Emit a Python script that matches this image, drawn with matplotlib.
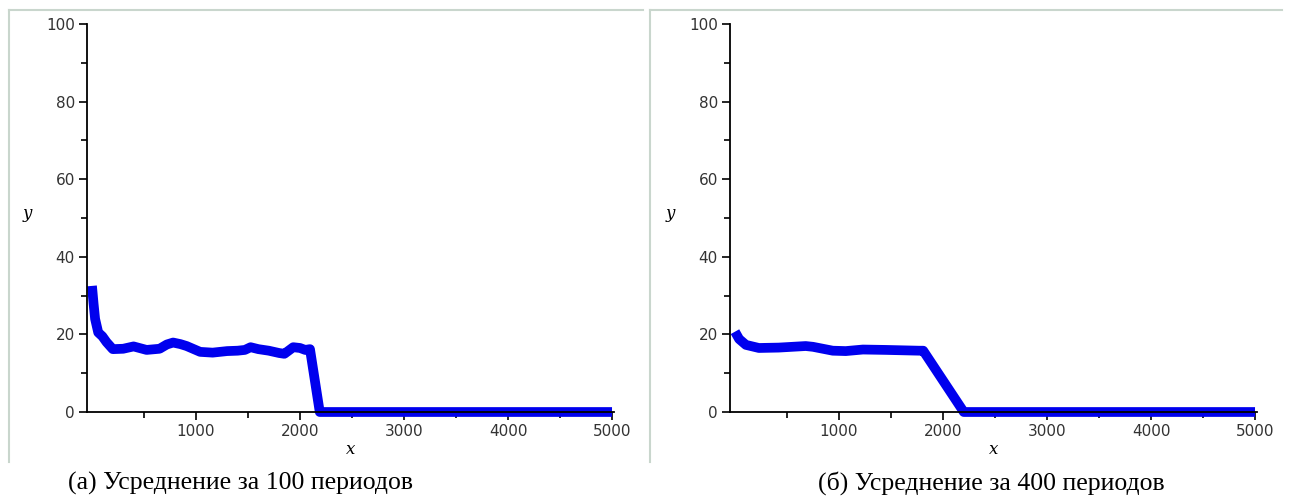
import matplotlib
matplotlib.use("Agg")
from matplotlib import pyplot as plt
from matplotlib.lines import Line2D
from matplotlib.ticker import FixedLocator

# (a) усреднение за 100 периодов
x_a = [0, 15, 30, 60, 100, 140, 200, 300, 400, 525, 650, 720, 780, 850, 910, 1040,
       1160, 1300, 1400, 1470, 1525, 1600, 1700, 1800, 1850, 1935, 2000, 2050, 2096,
       2190, 2500, 3000, 3500, 4000, 4500, 5000]
y_a = [32.5, 28, 24, 20.5, 19.5, 18, 16.2, 16.3, 16.9, 16.0, 16.3, 17.4, 17.9, 17.5, 17.0, 15.5,
       15.3, 15.7, 15.8, 16.0, 16.7, 16.2, 15.8, 15.2, 15.0, 16.7, 16.5, 16.0, 16.2,
       0, 0, 0, 0, 0, 0, 0]

# (б) усреднение за 400 периодов
x_b = [0, 40, 105, 230, 420, 680, 750, 940, 1065, 1230, 1450, 1770, 1810, 2200,
       2500, 3000, 3500, 4000, 4500, 5000]
y_b = [20.7, 18.8, 17.3, 16.5, 16.6, 17.0, 16.8, 15.8, 15.7, 16.1, 16.0, 15.8, 15.8, 0,
       0, 0, 0, 0, 0, 0]

captions = ["(a) Усреднение за 100 периодов", "(б) Усреднение за 400 периодов"]

W, H = 1292, 503
fig = plt.figure(figsize=(W / 100, H / 100), dpi=100)

frame_col = "#c9d6cd"
panels = [(x_a, y_a, 87.3, 9, 643, 240), (x_b, y_b, 730.3, 650, 1282, 991)]

for i, (xs, ys, left_px, fx0, fx1, cap_x) in enumerate(panels):
    # светлая рамка панели (левая и верхняя стороны)
    fig.add_artist(Line2D([fx0 / W, fx0 / W], [1 - 462 / H, 1 - 10 / H],
                          color=frame_col, lw=1.5, transform=fig.transFigure))
    fig.add_artist(Line2D([fx0 / W, fx1 / W], [1 - 10 / H, 1 - 10 / H],
                          color=frame_col, lw=1.5, transform=fig.transFigure))

    ax = fig.add_axes([left_px / W, (H - 412) / H, 526.8 / W, 388 / H])
    ax.plot(xs, ys, color="#0000ee", lw=7, solid_capstyle="butt", clip_on=False)
    ax.set_xlim(-45, 5020)
    ax.set_ylim(0, 100)
    ax.spines["top"].set_visible(False)
    ax.spines["right"].set_visible(False)
    for s in ("left", "bottom"):
        ax.spines[s].set_linewidth(1.3)
    ax.set_xticks([1000, 2000, 3000, 4000, 5000])
    ax.set_yticks([0, 20, 40, 60, 80, 100])
    ax.xaxis.set_minor_locator(FixedLocator([500, 1500, 2500, 3500, 4500]))
    ax.yaxis.set_minor_locator(FixedLocator([10, 30, 50, 70, 90]))
    ax.tick_params(which="major", length=6, width=1.2, labelsize=11,
                   labelcolor="#333333", pad=3)
    ax.tick_params(which="minor", length=4, width=1.2)
    ax.set_xlabel("x", fontsize=12, style="italic", family="DejaVu Serif",
                  labelpad=1)
    ax.set_ylabel("y", fontsize=12, style="italic", family="DejaVu Serif",
                  rotation=0)
    ax.yaxis.set_label_coords(-0.113, 0.49)

    fig.text(cap_x / W, 1 - 483 / H, captions[i],
             ha="center", va="center", fontsize=18.5, family="Liberation Serif")

fig.savefig("out.png", dpi=100)
